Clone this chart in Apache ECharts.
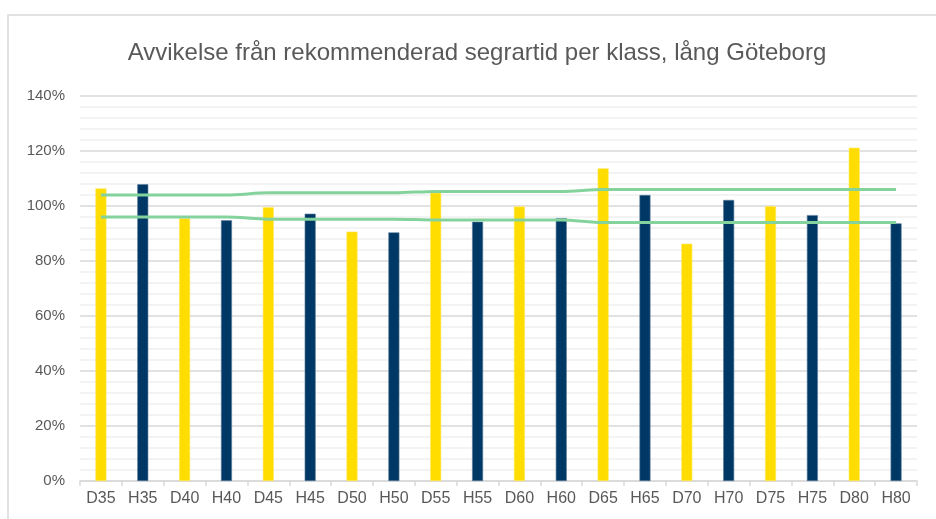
<!DOCTYPE html>
<html>
<head>
<meta charset="utf-8">
<script src="https://cdn.jsdelivr.net/npm/echarts@6/dist/echarts.min.js"></script>
<style>
  html, body { margin: 0; padding: 0; background: #fff; }
  #chart { width: 936px; height: 519px; }
</style>
</head>
<body>
<div id="chart"></div>
<script>
// klasser
const categories = ['D35', 'H35', 'D40', 'H40', 'D45', 'H45', 'D50', 'H50', 'D55', 'H55',
  'D60', 'H60', 'D65', 'H65', 'D70', 'H70', 'D75', 'H75', 'D80', 'H80'];
// avvikelse i procent
const deviation = [106.4, 107.9, 95.5, 94.8, 99.6, 97.2, 90.7, 90.4, 104.8, 94.3,
  99.8, 95.6, 113.7, 104.0, 86.3, 102.2, 99.9, 96.7, 121.2, 93.7];
// gränser
const upperLimit = [104, 104, 104, 104, 104.8, 104.8, 104.8, 104.8, 105.3, 105.3,
  105.3, 105.3, 106, 106, 106, 106, 106, 106, 106, 106];
const lowerLimit = [96, 96, 96, 96, 95.2, 95.2, 95.2, 95.2, 94.9, 94.9,
  94.9, 94.9, 94, 94, 94, 94, 94, 94, 94, 94];
const yTicks = [0, 140, 20];

const chart = echarts.init(document.getElementById('chart'));
const txt = '#595959';
const lineStyle = { color: '#84d39c', width: 3 };

chart.setOption({
  animation: false,
  textStyle: { fontFamily: 'Liberation Sans, Arial, sans-serif' },
  title: {
    text: 'Avvikelse från rekommenderad segrartid per klass, lång Göteborg',
    left: 472, top: 36, textAlign: 'center',
    textStyle: { fontSize: 24, fontWeight: 'normal', color: txt }
  },
  graphic: [{
    type: 'rect', silent: true,
    shape: { x: 8, y: 15, width: 960, height: 540 },
    style: { fill: 'none', stroke: '#d9d9d9', lineWidth: 1.5 }
  }],
  grid: { left: 80, right: 19, top: 96, bottom: 38 },
  xAxis: {
    type: 'category', data: categories, boundaryGap: true,
    axisLine: { lineStyle: { color: '#d9d9d9', width: 1.5 } },
    axisTick: { show: true, length: 5, lineStyle: { color: '#d9d9d9', width: 1.5 } },
    axisLabel: { color: txt, fontSize: 16, margin: 10 }
  },
  yAxis: {
    type: 'value', min: yTicks[0], max: yTicks[1], interval: yTicks[2],
    axisLabel: { color: txt, fontSize: 15, margin: 15, formatter: '{value}%' },
    axisLine: { show: false }, axisTick: { show: false },
    splitLine: { lineStyle: { color: '#d9d9d9', width: 1.5 } },
    minorTick: { show: false, splitNumber: 5 },
    minorSplitLine: { show: true, lineStyle: { color: '#f0f0f0', width: 1.5 } }
  },
  series: [{
    type: 'bar', barWidth: 11, z: 2,
    data: deviation.map((v, i) => ({
      value: v,
      itemStyle: {
        color: categories[i][0] === 'D' ? '#ffdd00' : '#003865',
        borderColor: categories[i][0] === 'D' ? '#ffe95c' : '#5a7d9c',
        borderWidth: 0.6
      }
    }))
  }, {
    type: 'line', data: upperLimit, symbol: 'none', smooth: 0.3, smoothMonotone: 'x',
    lineStyle: lineStyle, z: 3
  }, {
    type: 'line', data: lowerLimit, symbol: 'none', smooth: 0.3, smoothMonotone: 'x',
    lineStyle: lineStyle, z: 3
  }]
});
</script>
</body>
</html>
